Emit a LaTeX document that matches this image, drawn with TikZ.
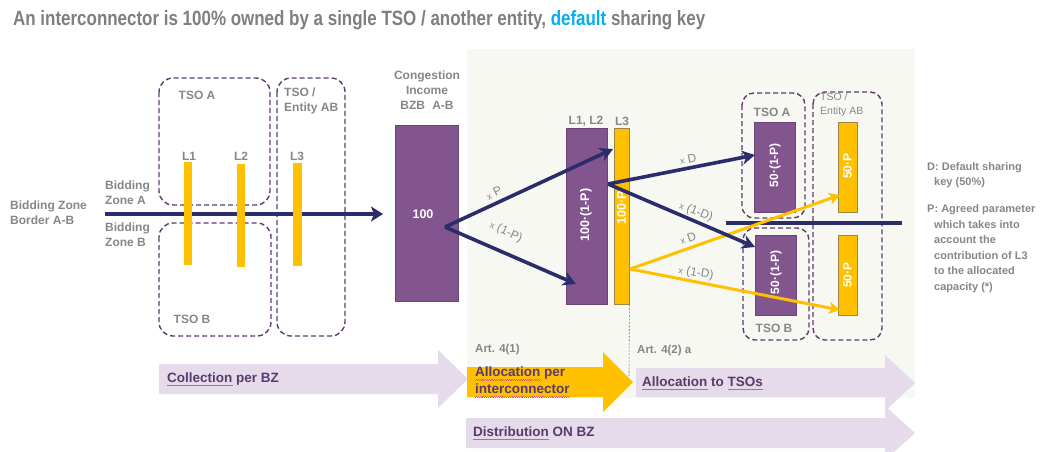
\documentclass[tikz,border=0pt]{standalone}
\usepackage{fontspec}
\setmainfont{Liberation Sans}
\usepackage{graphicx}
\usetikzlibrary{arrows.meta}
\definecolor{navy}{HTML}{2B2C6B}
\definecolor{boxpurple}{HTML}{83558F}
\definecolor{boxedge}{HTML}{6A4577}
\definecolor{ygold}{HTML}{FFC000}
\definecolor{yedge}{HTML}{9C8650}
\definecolor{lav}{HTML}{E5DBEA}
\definecolor{panel}{HTML}{F8F8F3}
\definecolor{txtgray}{HTML}{878787}
\definecolor{titlegray}{HTML}{7F7F7F}
\definecolor{dpurple}{HTML}{5A3A6E}
\definecolor{dashc}{HTML}{5E3C6F}
\definecolor{skyblue}{HTML}{00B0F0}
\definecolor{spell}{HTML}{E06060}
\newsavebox\sqbox
\newcommand\sq[1]{\sbox\sqbox{#1}\rlap{\textcolor{spell}{\hbox to \wd\sqbox{\xleaders\hbox{\rule[-3.4pt]{0.9pt}{0.5pt}\rule[-2.8pt]{0.9pt}{0.5pt}}\hfill}}}#1}
\begin{document}
\begin{tikzpicture}[x=1pt,y=-1pt,
  lbl/.style={text=txtgray, font=\bfseries\fontsize{12}{15}\selectfont, inner sep=0pt},
  note/.style={text=txtgray, font=\bfseries\fontsize{11}{15.5}\selectfont, inner sep=0pt, align=left, anchor=west},
  steplbl/.style={text=dpurple, font=\bfseries\fontsize{13.5}{17}\selectfont, inner sep=0pt, align=left, anchor=west},
  arrlbl/.style={text=txtgray, font=\fontsize{12}{14}\selectfont, inner sep=0pt},
  intext/.style={text=white, font=\bfseries\fontsize{12.5}{14}\selectfont, inner sep=0pt},
  dbox/.style={draw=dashc, line width=1.4pt, dash pattern=on 5pt off 3pt, rounded corners=14pt},
  bar/.style={fill=ygold, draw=none, inner sep=0pt},
  pbox/.style={fill=boxpurple, draw=boxedge, line width=0.8pt, inner sep=0pt},
  ybox/.style={fill=ygold, draw=yedge, line width=0.8pt, inner sep=0pt},
  navyarr/.style={draw=navy, line width=3.6pt, -{Stealth[length=13pt,width=14pt,inset=4pt]}},
  yarr/.style={draw=ygold, line width=3pt, -{Stealth[length=11pt,width=12pt,inset=3pt]}},
  stepfill/.style={fill=lav, draw=none}
]
\useasboundingbox (0,0) rectangle (1064,451);
\fill[white] (0,0) rectangle (1064,451);
\fill[panel] (467,49) rectangle (915,398);

% title
\node[anchor=base west, inner sep=0pt, text=titlegray] (title) at (13,25)
  {\resizebox{692pt}{15pt}{\bfseries An interconnector is 100\% owned by a single TSO / another entity, \textcolor{skyblue}{default} sharing key}};

% left dashed boxes
\draw[dbox] (159,78) rectangle (270,205);
\draw[dbox] (159,223) rectangle (271,336);
\draw[dbox] (277,78) rectangle (345,336);

\node[lbl] (tsoA) at (197,95) {TSO A};
\node[lbl] (tsoB) at (192,319) {TSO B};
\node[lbl, align=left, anchor=west, font=\bfseries\fontsize{12}{15}\selectfont] (entAB) at (284,101) {TSO /\\Entity AB};

\node[lbl, align=left, anchor=west] (bzborder) at (10,213) {Bidding Zone\\Border A-B};
\node[lbl, align=left, anchor=west] (bza) at (105,193) {Bidding\\Zone A};
\node[lbl, align=left, anchor=west] (bzb) at (105,235) {Bidding\\Zone B};

% main arrow
\coordinate (bzstart) at (105,214);
\coordinate (bzend) at (383,214);
\draw[navyarr, -{Stealth[length=12pt,width=15pt,inset=3pt]}] (bzstart) -- (bzend);

% L bars
\node[bar, minimum width=8pt, minimum height=103pt] (L1) at (188,213.5) {};
\node[bar, minimum width=8pt, minimum height=103pt] (L2) at (241,215.5) {};
\node[bar, minimum width=9pt, minimum height=103pt] (L3) at (297.5,214.5) {};
\node[lbl] (L1t) at (189,156) {L1};
\node[lbl] (L2t) at (241,156) {L2};
\node[lbl] (L3t) at (297,156) {L3};

% congestion income
\node[lbl, align=center] (cong) at (427,90) {Congestion\\Income\\BZB\hspace{0.6em}A-B};
\node[pbox, minimum width=63pt, minimum height=176pt] (inc) at (426.5,213) {};
\node[intext] (inct) at (423,214) {100};

% L1,L2 and L3 boxes
\node[lbl] (l12t) at (586,121) {L1, L2};
\node[lbl] (l3t) at (622,121) {L3};
\node[pbox, minimum width=41pt, minimum height=176pt] (l12) at (586.5,216) {};
\node[ybox, minimum width=15pt, minimum height=176pt] (l3box) at (621.5,216) {};
\node[intext, rotate=90] (l12txt) at (586,215) {100·(1-P)};
\node[intext, rotate=90] (l3txt) at (621.5,208) {100·P};

% dotted separator
\coordinate (dotend) at (629,376);
\draw[dashc!80, line width=0.6pt, dash pattern=on 2pt off 1.5pt] (l3box.south east) -- (dotend);

% right dashed boxes
\draw[dbox, rounded corners=12pt] (742,93) rectangle (805,218);
\draw[dbox, rounded corners=12pt] (743,228) rectangle (809,340);
\draw[dbox, rounded corners=12pt] (813,92) rectangle (882,340);
\node[lbl] (rtsoA) at (772,112) {TSO A};
\node[lbl] (rtsoB) at (774,328) {TSO B};
\node[text=txtgray, font=\fontsize{10.5}{14}\selectfont, inner sep=0pt, align=left, anchor=west] (rent) at (820,105) {TSO /\\Entity AB};

\node[pbox, minimum width=41pt, minimum height=90pt] (ta) at (774.5,167) {};
\node[pbox, minimum width=41pt, minimum height=80pt] (tb) at (775.5,275) {};
\node[ybox, minimum width=19pt, minimum height=90pt] (ea) at (847.5,167) {};
\node[ybox, minimum width=19pt, minimum height=80pt] (eb) at (847.5,275) {};
\node[intext, rotate=90, font=\bfseries\fontsize{12}{14}\selectfont] (tatxt) at (775,165) {50·(1-P)};
\node[intext, rotate=90, font=\bfseries\fontsize{12}{14}\selectfont] (tbtxt) at (776,272) {50·(1-P)};
\node[intext, rotate=90, font=\bfseries\fontsize{12}{14}\selectfont] (eatxt) at (847.5,166) {50·P};
\node[intext, rotate=90, font=\bfseries\fontsize{12}{14}\selectfont] (ebtxt) at (847.5,275) {50·P};

% horizontal border line
\coordinate (hl1) at (726,223);
\coordinate (hl2) at (902,223);
\draw[navy, line width=3.6pt] (hl1) -- (hl2);

% connectors
\coordinate (c100) at (445,227);
\coordinate (l3in) at (613,149);
\coordinate (l12in) at (576,284);
\coordinate (l12out) at (608,184);
\coordinate (tain) at (755,155);
\coordinate (tbin) at (755,247);
\coordinate (l3out) at (630,269);
\coordinate (eain) at (840,195);
\coordinate (ebin) at (840,310);

\draw[navyarr] (c100) -- (l3in);
\draw[navyarr] (c100) -- (l12in);
\draw[yarr] (l3out) -- (eain);
\draw[yarr] (l3out) -- (ebin);
\draw[navyarr] (l12out) -- (tain);
\draw[navyarr] (l12out) -- (tbin);

\node[arrlbl, rotate=25] (lxp) at (494,193) {{\fontsize{9}{9}\selectfont x} P};
\node[arrlbl, rotate=-25] (lx1p) at (506,232) {{\fontsize{9}{9}\selectfont x} (1-P)};
\node[arrlbl, rotate=13] (lxd1) at (688,159) {{\fontsize{9}{9}\selectfont x} D};
\node[arrlbl, rotate=-22] (lx1d1) at (696,212) {{\fontsize{9}{9}\selectfont x} (1-D)};
\node[arrlbl, rotate=19] (lxd2) at (688,238) {{\fontsize{9}{9}\selectfont x} D};
\node[arrlbl, rotate=-10] (lx1d2) at (696,273) {{\fontsize{9}{9}\selectfont x} (1-D)};

% notes
\node[note] (noteD) at (927,175) {D: Default sharing\\\hspace*{7pt}key (50\%)};
\node[note] (noteP) at (927,248.5) {P: Agreed parameter\\\hspace*{7pt}which takes into\\\hspace*{7pt}account the\\\hspace*{7pt}contribution of L3\\\hspace*{7pt}to the allocated\\\hspace*{7pt}capacity (*)};

% bottom step arrows
\fill[stepfill] (466,418) -- (885,418) -- (885,406) -- (915,433) -- (885,460) -- (885,448) -- (466,448) -- cycle;
\fill[stepfill] (159,364) -- (438,364) -- (438,350) -- (468,379) -- (438,408) -- (438,394) -- (159,394) -- cycle;
\fill[stepfill] (636,368) -- (885,368) -- (885,355) -- (915,383) -- (885,411) -- (885,397) -- (636,397) -- cycle;
\fill[ygold] (467,367) -- (603,367) -- (603,352) -- (633,382) -- (603,412) -- (603,397) -- (467,397) -- cycle;

\node[steplbl] (coll) at (167,379) {\sq{Collection} per BZ};
\node[lbl, anchor=west, font=\bfseries\fontsize{11.5}{14}\selectfont] (art41) at (475,350) {Art. 4(1)};
\node[steplbl] (allocic) at (475,382) {\sq{Allocation} per\\\sq{interconnector}};
\node[lbl, anchor=west, font=\bfseries\fontsize{11.5}{14}\selectfont] (art42) at (637,351) {Art. 4(2) a};
\node[steplbl] (alloctso) at (642,383) {\sq{Allocation} to \sq{TSOs}};
\node[steplbl] (distr) at (473,433) {\sq{Distribution} ON BZ};
\end{tikzpicture}
\end{document}
